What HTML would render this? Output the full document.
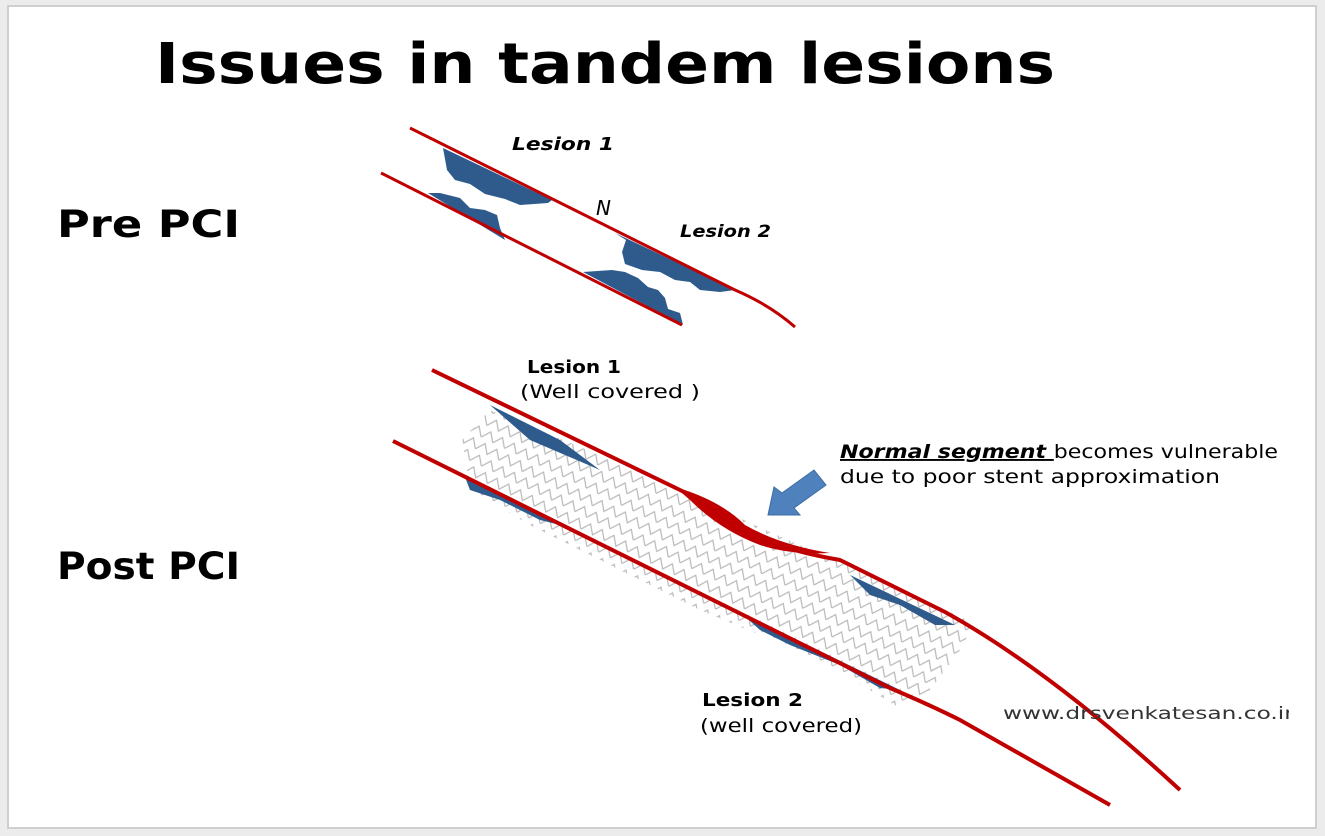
<!DOCTYPE html>
<html><head><meta charset="utf-8"><style>
html,body{margin:0;padding:0;background:#f0f0f0;}
svg{display:block;}
</style></head><body>
<svg width="1325" height="836" viewBox="0 0 1325 836" xmlns="http://www.w3.org/2000/svg" font-family="'DejaVu Sans','Liberation Sans',sans-serif">
<defs>
<pattern id="mesh" width="26" height="26" patternUnits="userSpaceOnUse" patternTransform="rotate(26)">
<path d="M0 13 L6.5 4 L13 13 L19.5 4 L26 13 M0 26 L6.5 17 L13 26 L19.5 17 L26 26" fill="none" stroke="#a0a0a0" stroke-width="1.2"/>
</pattern>
</defs>
<rect x="0" y="0" width="1325" height="836" fill="#ececec"/>
<rect x="8" y="6" width="1308" height="822" fill="#fff" stroke="#cfcfcf" stroke-width="2"/>
<text x="155" y="83" font-size="56" font-weight="bold" textLength="900" lengthAdjust="spacingAndGlyphs" fill="#000">Issues in  tandem lesions</text>
<text x="57" y="237" font-size="37" font-weight="bold" textLength="183" lengthAdjust="spacingAndGlyphs">Pre PCI</text>
<text x="57" y="579" font-size="37" font-weight="bold" textLength="183" lengthAdjust="spacingAndGlyphs">Post PCI</text>

<!-- Pre PCI -->
<path d="M443 148 L552 200 L548 203 L520 205 L505 199 L485 194 L470 184 L455 180 L447 170 Z" fill="#2e5a8c"/>
<path d="M428 193 L505 240 L500 228 L497 215 L485 210 L470 208 L460 198 L440 193 Z" fill="#2e5a8c"/>
<path d="M615 233 L735 290 L720 292 L700 290 L690 282 L675 280 L660 272 L642 270 L625 264 L622 252 L626 240 Z" fill="#2e5a8c"/>
<path d="M583 272 L683 325 L680 313 L668 309 L665 298 L658 290 L648 287 L638 278 L625 272 L612 270 Z" fill="#2e5a8c"/>
<path d="M410 128 L735 290 Q770 305 795 327" fill="none" stroke="#c00000" stroke-width="3"/>
<path d="M381 173 L682 325" fill="none" stroke="#c00000" stroke-width="3"/>
<text x="512" y="150" font-size="18" font-weight="bold" font-style="italic" textLength="102" lengthAdjust="spacingAndGlyphs">Lesion 1</text>
<text x="596" y="215" font-size="20" font-style="italic">N</text>
<text x="680" y="237" font-size="17" font-weight="bold" font-style="italic" textLength="91" lengthAdjust="spacingAndGlyphs">Lesion 2</text>

<!-- Post PCI stent -->
<path d="M490 410 L690 492 Q740 520 800 545 L975 622 L960 650 L930 690 L900 708 L820 660 L700 610 L530 525 L470 490 L462 440 Z" fill="url(#mesh)" opacity="0.75"/>
<path d="M490 405 L560 440 L600 470 L640 485 L600 470 L530 440 Z" fill="#2e5a8c"/>
<path d="M465 477 L560 525 L540 520 L500 500 L470 490 Z" fill="#2e5a8c"/>
<path d="M850 575 L955 625 L935 625 L900 605 L870 595 Z" fill="#2e5a8c"/>
<path d="M740 612 L900 690 L880 688 L840 665 L790 645 L760 630 Z" fill="#2e5a8c"/>
<path d="M675 487 Q720 500 745 525 Q780 545 830 553 Q790 555 760 545 Q720 530 690 500 Z" fill="#c00000"/>
<path d="M432 370 L680 490 Q720 510 745 530 Q780 550 840 560 L945 612 Q1050 670 1180 790" fill="none" stroke="#c00000" stroke-width="4"/>
<path d="M393 441 L890 688 Q930 705 960 720 L1110 805" fill="none" stroke="#c00000" stroke-width="4"/>
<path d="M768 515 L774 487 L782 493 L814 470 L826 485 L794 508 L800 515 Z" fill="#4f81bd" stroke="#3a6da6" stroke-width="1"/>
<text x="527" y="373" font-size="18" font-weight="bold" textLength="94" lengthAdjust="spacingAndGlyphs">Lesion 1</text>
<text x="520" y="398" font-size="19" textLength="180" lengthAdjust="spacingAndGlyphs">(Well  covered )</text>
<text x="840" y="458" font-size="19" textLength="438" lengthAdjust="spacingAndGlyphs"><tspan font-weight="bold" font-style="italic" text-decoration="underline">Normal segment </tspan>becomes vulnerable</text>
<text x="840" y="483" font-size="19" textLength="380" lengthAdjust="spacingAndGlyphs">due to poor stent approximation</text>
<text x="702" y="706" font-size="18" font-weight="bold" textLength="101" lengthAdjust="spacingAndGlyphs">Lesion  2</text>
<text x="700" y="732" font-size="19" textLength="162" lengthAdjust="spacingAndGlyphs">(well covered)</text>
<text x="1003" y="719" font-size="17" fill="#333" textLength="296" lengthAdjust="spacingAndGlyphs">www.drsvenkatesan.co.in</text>
<rect x="1289" y="700" width="26" height="30" fill="#fff"/>
</svg>
</body></html>
